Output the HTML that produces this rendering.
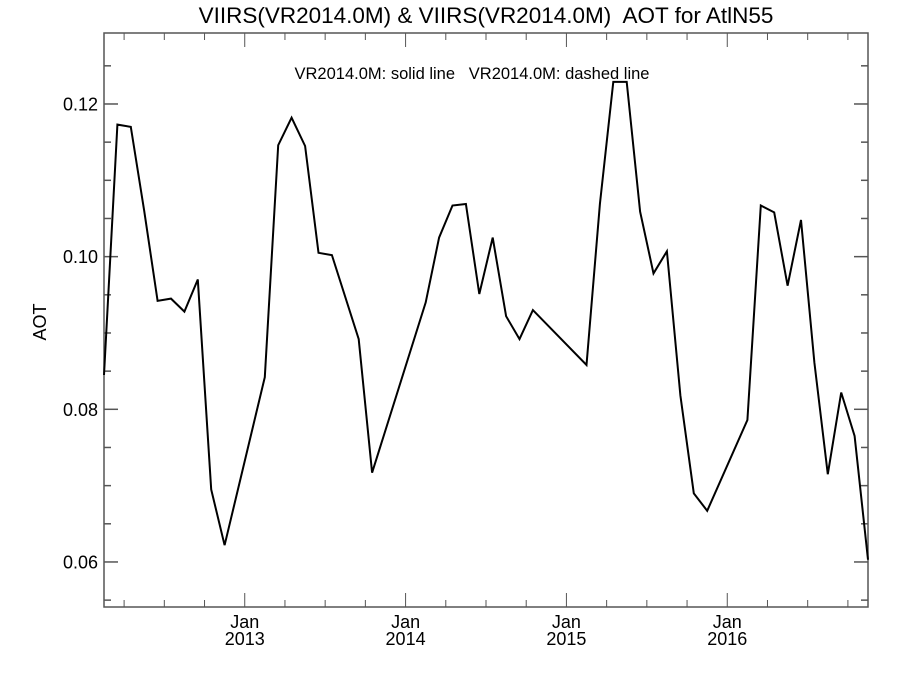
<!DOCTYPE html>
<html><head><meta charset="utf-8"><style>
body{margin:0;background:#fff;}
svg{display:block;font-family:"Liberation Sans",sans-serif;}
text{white-space:pre;}
</style></head><body>
<svg id="chart" width="900" height="675">
<text x="486" y="23" font-size="22.5" text-anchor="middle" xml:space="preserve">VIIRS(VR2014.0M) &amp; VIIRS(VR2014.0M)  AOT for AtlN55</text>
<text x="472" y="79" font-size="16.5" text-anchor="middle" xml:space="preserve">VR2014.0M: solid line   VR2014.0M: dashed line</text>
<text transform="translate(46,322) rotate(-90)" font-size="18" text-anchor="middle">AOT</text>
<g id="axes"></g>
<g id="series"></g>
</svg>
<script>
const monthIndex=[0,1,2,3,4,5,6,7,8,9,12,13,14,15,16,17,19,20,24,25,26,27,28,29,30,31,32,36,37,38,39,40,41,42,43,44,45,48,49,50,51,52,53,54,55,56,57];
const aotValues=[0.0845,0.1173,0.1170,0.1060,0.0942,0.0945,0.0928,0.0970,0.0695,0.0622,0.0842,0.1146,0.1182,0.1145,0.1005,0.1002,0.0892,0.0717,0.0940,0.1025,0.1067,0.1069,0.0951,0.1025,0.0922,0.0892,0.0930,0.0858,0.1069,0.1229,0.1229,0.1059,0.0978,0.1007,0.0818,0.0690,0.0667,0.0786,0.1067,0.1058,0.0962,0.1048,0.0861,0.0715,0.0822,0.0765,0.0603];
const yTickLabels=["0.06","0.08","0.10","0.12"];
const yTickValues=[0.06,0.08,0.10,0.12];
const yearLabels=["2013","2014","2015","2016"];
const yearJanIndex=[10.5,22.5,34.5,46.5];

const L=104,R=868,T=33,B=607;
const xMin=0,xMax=57,yMin=0.0541,yMax=0.1293;
const xs=i=>L+(i-xMin)/(xMax-xMin)*(R-L);
const ys=v=>B-(v-yMin)/(yMax-yMin)*(B-T);
const NS="http://www.w3.org/2000/svg";
const ax=document.getElementById('axes');
function mk(tag,attrs,parent){const e=document.createElementNS(NS,tag);for(const k in attrs)e.setAttribute(k,attrs[k]);parent.appendChild(e);return e;}
const frame=mk('rect',{x:L,y:T,width:R-L,height:B-T,fill:'none',stroke:'#555','stroke-width':1.5},ax);


for(let k=0;;k++){const v=0.055+k*0.005;if(v>yMax)break;const y=ys(v);
 const major=yTickValues.some(t=>Math.abs(t-v)<1e-6);const len=major?14:7;
 const t1=mk('line',{x1:L,x2:L+len,y1:y,y2:y,stroke:'#555','stroke-width':1.5},ax);
 
 
 const t2=mk('line',{x1:R,x2:R-len,y1:y,y2:y,stroke:'#555','stroke-width':1.5},ax);
 
 }
yTickValues.forEach((v,i)=>{const t=mk('text',{x:L-6,y:ys(v)+6.5,'font-size':18,'text-anchor':'end'},ax);t.textContent=yTickLabels[i];
 
 });
for(let m=10.5-9;m<=xMax;m+=3){const x=xs(m);const major=yearJanIndex.some(j=>Math.abs(j-m)<1e-6);const len=major?14:7;
 const a=mk('line',{x1:x,x2:x,y1:B,y2:B-len,stroke:'#555','stroke-width':1},ax);
 
 
 const b=mk('line',{x1:x,x2:x,y1:T,y2:T+len,stroke:'#555','stroke-width':1},ax);
 
 }
yearJanIndex.forEach((m,i)=>{const x=xs(m);
 const a=mk('text',{x:x,y:628,'font-size':18,'text-anchor':'middle'},ax);a.textContent='Jan';
 
 
 const b=mk('text',{x:x,y:645,'font-size':18,'text-anchor':'middle'},ax);b.textContent=yearLabels[i];
 
 });
const pts=monthIndex.map((m,i)=>xs(m).toFixed(1)+','+ys(aotValues[i]).toFixed(1)).join(' ');
const pl=mk('polyline',{points:pts,fill:'none',stroke:'#000','stroke-width':2,'stroke-linejoin':'miter'},document.getElementById('series'));


</script>
</body></html>
